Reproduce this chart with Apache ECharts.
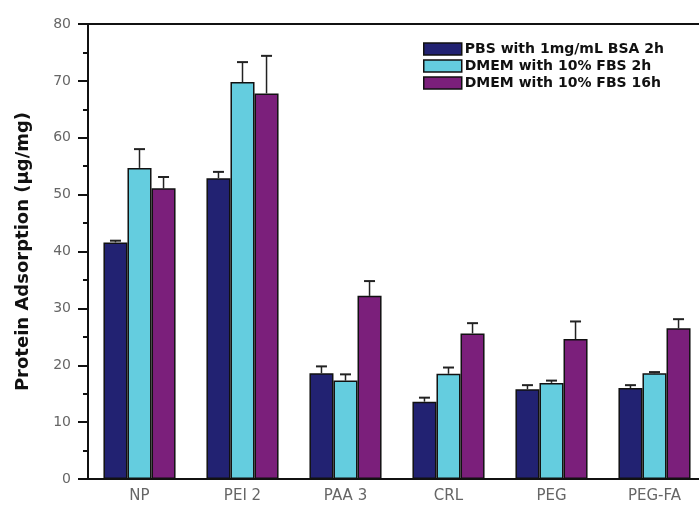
<!DOCTYPE html>
<html><head><meta charset="utf-8">
<script src="https://cdn.jsdelivr.net/npm/echarts@6/dist/echarts.min.js"></script>
<style>html,body{margin:0;padding:0;background:#fff}#c{width:699px;height:511px}</style>
</head><body><div id="c"></div>
<script>
const categories = ['NP', 'PEI 2', 'PAA 3', 'CRL', 'PEG', 'PEG-FA'];
const seriesNames = ['PBS with 1mg/mL BSA 2h', 'DMEM with 10% FBS 2h', 'DMEM with 10% FBS 16h'];
const pbs2h = [41.6, 52.9, 18.6, 13.6, 15.8, 16.0];
const pbs2hErr = [0.3, 1.1, 1.2, 0.7, 0.7, 0.5];
const dmem2h = [54.7, 69.8, 17.3, 18.5, 16.9, 18.6];
const dmem2hErr = [3.3, 3.5, 1.1, 1.1, 0.4, 0.2];
const dmem16h = [51.1, 67.8, 32.2, 25.6, 24.6, 26.5];
const dmem16hErr = [2.0, 6.6, 2.6, 1.8, 3.1, 1.6];
const yTicks = [0, 10, 20, 30, 40, 50, 60, 70, 80];

const colors = ['#222272', '#64cddf', '#7b1f7b'];
const values = [pbs2h, dmem2h, dmem16h];
const errs = [pbs2hErr, dmem2hErr, dmem16hErr];
const CAT_GAP = 0.3;
const FONT = 'DejaVu Sans, Liberation Sans, Arial, sans-serif';

const chart = echarts.init(document.getElementById('c'));
const series = [];
values.forEach((v, k) => {
  series.push({
    name: seriesNames[k], type: 'bar', data: v,
    barGap: '0%', barCategoryGap: (CAT_GAP * 100) + '%',
    itemStyle: { color: colors[k], borderColor: '#111', borderWidth: 1.5 },
    z: 2
  });
});
values.forEach((v, k) => {
  series.push({
    type: 'custom', name: 'err' + k,
    data: v.map((val, i) => [i, val, val + errs[k][i]]),
    z: 1,
    renderItem: function (params, api) {
      const band = api.size([1, 0])[0];
      const bw = band * (1 - CAT_GAP) / 3;
      const off = (k - 1) * bw;
      const base = api.coord([api.value(0), api.value(1)]);
      const top = api.coord([api.value(0), api.value(2)]);
      const x = base[0] + off;
      const cap = 5.5;
      return {
        type: 'group',
        children: [
          { type: 'line', shape: { x1: x, y1: base[1], x2: x, y2: top[1] }, style: { stroke: '#222', lineWidth: 1.5 } },
          { type: 'line', shape: { x1: x - cap, y1: top[1], x2: x + cap, y2: top[1] }, style: { stroke: '#222', lineWidth: 2 } }
        ]
      };
    },
    encode: { x: 0, y: [1, 2] }
  });
});

chart.setOption({
  animation: false,
  backgroundColor: '#fff',
  textStyle: { fontFamily: FONT },
  legend: {
    data: seriesNames, orient: 'vertical', left: 418, top: 37,
    itemWidth: 38, itemHeight: 12, itemGap: 3, icon: 'rect',
    itemStyle: { borderColor: '#111', borderWidth: 1.5 },
    textStyle: { fontFamily: FONT, fontWeight: 'bold', fontSize: 14, color: '#111', padding: [0, 0, 0, -2] }
  },
  grid: { left: 88, top: 24, right: -7, bottom: 32, containLabel: false, outerBoundsMode: 'none' },
  xAxis: [{
    type: 'category', data: categories, position: 'bottom',
    axisLine: { lineStyle: { color: '#111', width: 2 } },
    axisTick: { alignWithLabel: true, length: 7, lineStyle: { color: '#111', width: 2 } },
    axisLabel: { color: '#666', fontSize: 15, margin: 10, fontFamily: FONT }
  }, {
    type: 'category', data: categories, position: 'top',
    axisLine: { show: true, lineStyle: { color: '#111', width: 2 } },
    axisTick: { show: false }, axisLabel: { show: false }
  }],
  yAxis: {
    type: 'value', min: 0, max: 80, interval: 10,
    name: 'Protein Adsorption (\u00b5g/mg)', nameLocation: 'middle', nameGap: 56,
    nameTextStyle: { fontWeight: 'bold', fontSize: 18, color: '#111', fontFamily: FONT },
    axisLine: { show: true, lineStyle: { color: '#111', width: 2 } },
    axisTick: { show: true, length: 10, lineStyle: { color: '#111', width: 2 } },
    minorTick: { show: true, splitNumber: 2, length: 5, lineStyle: { color: '#111', width: 2 } },
    splitLine: { show: false },
    axisLabel: { color: '#666', fontSize: 14, margin: 17, fontFamily: FONT,
      formatter: v => yTicks.includes(v) ? String(v) : '' }
  },
  series: series
});
</script></body></html>
